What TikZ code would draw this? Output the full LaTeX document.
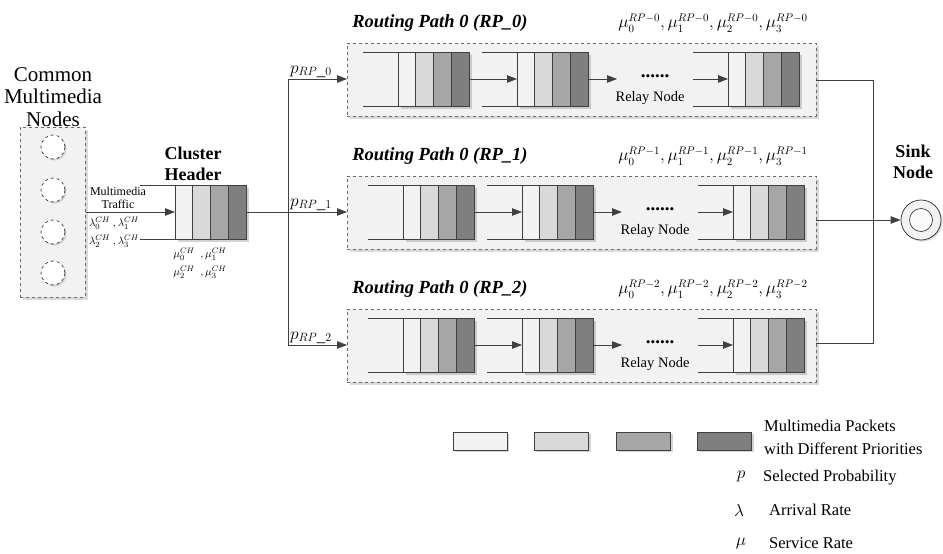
\documentclass[tikz,border=0pt]{standalone}
\usepackage{fontspec}
\setmainfont{Liberation Serif}
\usetikzlibrary{arrows.meta,shadows}
\definecolor{lc}{HTML}{404040}
\definecolor{cA}{HTML}{F2F2F2}
\definecolor{cB}{HTML}{D9D9D9}
\definecolor{cC}{HTML}{A6A6A6}
\definecolor{cD}{HTML}{7F7F7F}
\definecolor{bxfill}{HTML}{F2F2F2}
\definecolor{dashc}{HTML}{6A6A6A}
\tikzset{
  cellbase/.style={draw=lc, line width=0.8pt, minimum width=17.75pt, minimum height=54pt,
    inner sep=0pt, outer sep=0pt, anchor=west,
    drop shadow={shadow xshift=2.5pt, shadow yshift=-2.5pt, opacity=0.35, fill=gray}},
  ca/.style={cellbase, fill=cA},
  cb/.style={cellbase, fill=cB},
  cc/.style={cellbase, fill=cC},
  cd/.style={cellbase, fill=cD},
  ln/.style={draw=lc, line width=0.8pt},
  arr/.style={draw=lc, line width=0.8pt, -{Triangle[length=10pt,width=7.5pt]}},
  rpbox/.style={draw=dashc, dashed, fill=bxfill, line width=0.7pt, minimum width=469pt,
    minimum height=73pt, anchor=north west, inner sep=0pt, outer sep=0pt,
    drop shadow={shadow xshift=3pt, shadow yshift=-3pt, opacity=0.3, fill=gray}},
  ttl/.style={font=\fontsize{18.5}{20}\selectfont\bfseries\itshape},
  bld/.style={font=\fontsize{18}{21}\selectfont\bfseries, align=center},
  mul/.style={font=\fontsize{16}{18}\selectfont},
  plab/.style={font=\fontsize{17}{19}\selectfont, anchor=base west, inner sep=0pt},
  relay/.style={font=\fontsize{14.5}{16}\selectfont},
  dots/.style={font=\fontsize{19}{20}\selectfont\bfseries},
  leg/.style={font=\fontsize{16.5}{23}\selectfont, inner sep=0pt},
  small/.style={font=\fontsize{12}{12.5}\selectfont, align=center, inner sep=0pt},
  tiny/.style={font=\fontsize{11}{18}\selectfont, inner sep=0pt, align=center},
  lgbox/.style={draw=lc, line width=0.8pt, minimum width=54pt, minimum height=18pt,
    inner sep=0pt, drop shadow={shadow xshift=2pt, shadow yshift=-2pt, opacity=0.35, fill=gray}},
}
% #1 name, #2 x of line start, #3 x of first cell left, #4 y center
\newcommand{\pqueue}[4]{%
  \coordinate (#1-t) at (#2,#4-27);
  \coordinate (#1-b) at (#2,#4+27);
  \node[ca] (#1-1) at (#3,#4) {};
  \node[cb] (#1-2) at (#3+17.75,#4) {};
  \node[cc] (#1-3) at (#3+35.5,#4) {};
  \node[cd] (#1-4) at (#3+53.25,#4) {};
  \draw[ln] (#1-t) -- (#1-1.north west);
  \draw[ln] (#1-b) -- (#1-1.south west);
}
% #1 row name, #2 dx, #3 y center, #4 path number
\newcommand{\rprow}[4]{%
  \node[rpbox] (#1box) at (347,#3-36) {};
  \node[ttl] (#1title) at (440,#3-56) {Routing Path 0 (RP\_#4)};
  \node[mul] (#1mu) at (713,#3-56) {$\mu_0^{RP-#4},\mu_1^{RP-#4},\mu_2^{RP-#4},\mu_3^{RP-#4}$};
  \pqueue{#1qa}{363+#2}{398+#2}{#3}
  \pqueue{#1qb}{482+#2}{517+#2}{#3}
  \pqueue{#1qc}{693+#2}{728+#2}{#3}
  \coordinate (#1ae) at (617+#2,#3);
  \coordinate (#1as) at (693+#2,#3);
  \node[dots] (#1dots) at (655+#2,#3-3) {......};
  \node[relay] (#1relay) at (650+#2,#3+19) {Relay Node};
  \draw[arr] (#1qa-4.east) -- (#1qb-1.west);
  \draw[arr] (#1qb-4.east) -- (#1ae);
  \draw[arr] (#1as) -- (#1qc-1.west);
}
\begin{document}
\begin{tikzpicture}[x=1pt,y=-1pt]
\useasboundingbox (0,0) rectangle (943,554);

% common multimedia nodes
\node[font=\fontsize{21}{22.5}\selectfont, align=center, inner sep=0pt] (cmntxt) at (53,97) {Common\\Multimedia\\Nodes};
\node[draw=dashc, dashed, fill=bxfill, line width=0.7pt, minimum width=65pt, minimum height=170pt,
  anchor=north west, inner sep=0pt,
  drop shadow={shadow xshift=2.5pt, shadow yshift=-2.5pt, opacity=0.3, fill=gray}] (cmn) at (20,127) {};
\foreach \i/\yy in {1/147,2/190,3/232,4/273}{
  \node[circle, dashed, draw=lc, fill=white, line width=0.7pt, minimum size=24pt, inner sep=0pt,
    drop shadow={shadow xshift=1.5pt, shadow yshift=-1.5pt, opacity=0.3, fill=gray}] (n\i) at (53,\yy) {};
}

% cluster header
\node[bld] (chtxt) at (193,164) {Cluster\\Header};
\pqueue{ch}{140}{175}{212}
\draw[arr] (cmn.east |- ch-1.west) -- (ch-1.west);
\node[small] (mt) at (118,198) {Multimedia\\Traffic};
\node[tiny] (lam) at (114,232) {$\lambda_0^{CH}\ ,\lambda_1^{CH}$\\$\lambda_2^{CH}\ ,\lambda_3^{CH}$};
\node[tiny] (mu) at (200,263) {$\mu_0^{CH}\ \ ,\mu_1^{CH}$\\$\mu_2^{CH}\ \ ,\mu_3^{CH}$};

% routing paths
\rprow{r0}{0}{79}{0}
\rprow{r1}{5}{212}{1}
\rprow{r2}{5}{345}{2}

% left bus
\coordinate (bt) at (288,79);
\coordinate (bb) at (288,345);
\draw[ln] (bt) -- (bb);
\draw[arr] (bt) -- (bt -| r0box.west);
\draw[arr] (ch-4.east) -- (ch-4.east -| r1box.west);
\draw[arr] (bb) -- (bb -| r2box.west);
\node[plab] (p0) at (290,73) {$p_{RP\_0}$};
\node[plab] (p1) at (290,206) {$p_{RP\_1}$};
\node[plab] (p2) at (290,339) {$p_{RP\_2}$};

% sink
\node[bld] (sinktxt) at (913,162) {Sink\\Node};
\node[circle, draw=lc, fill=cA, line width=0.8pt, minimum size=40pt, inner sep=0pt,
  drop shadow={shadow xshift=1.5pt, shadow yshift=-1.5pt, opacity=0.3, fill=gray}] (sink) at (921,220) {};
\node[circle, draw=lc, fill=white!97!gray, line width=0.7pt, minimum size=23pt, inner sep=0pt] (sinkin) at (sink.center) {};

% right bus
\coordinate (rt) at (873,80);
\coordinate (rb) at (873,343);
\draw[ln] (r0box.east |- rt) -- (rt) -- (rb) -- (r2box.east |- rb);
\draw[arr] (r1box.east |- sink) -- (sink);

% legend
\node[lgbox, fill=cA] (lg1) at (480,441) {};
\node[lgbox, fill=cB] (lg2) at (561.5,441) {};
\node[lgbox, fill=cC] (lg3) at (643.5,441) {};
\node[lgbox, fill=cD] (lg4) at (724.5,441) {};
\node[leg, anchor=west, align=left] (lgt) at (764,437) {Multimedia Packets\\with Different Priorities};
\node[leg] (lp) at (741,476) {$p$};
\node[leg, anchor=west] (lpt) at (763,478) {Selected Probability};
\node[leg] (ll) at (739,510) {$\lambda$};
\node[leg, anchor=west] (llt) at (769,510) {Arrival Rate};
\node[leg] (lm) at (741,543) {$\mu$};
\node[leg, anchor=west] (lmt) at (769,543) {Service Rate};
\end{tikzpicture}
\end{document}
